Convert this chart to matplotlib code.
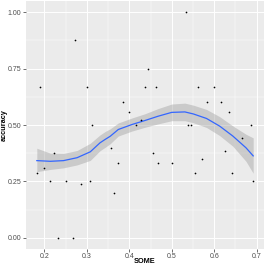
import numpy as np
import matplotlib
matplotlib.use("Agg")
import matplotlib.pyplot as plt
from matplotlib.ticker import MultipleLocator

plt.rcParams["font.family"] = ["Liberation Sans", "DejaVu Sans"]

# points
some = [0.182, 0.189, 0.200, 0.214, 0.222, 0.231, 0.251, 0.267, 0.273, 0.286,
        0.300, 0.308, 0.312, 0.357, 0.364, 0.374, 0.385, 0.400, 0.416, 0.428,
        0.438, 0.445, 0.455, 0.462, 0.467, 0.500, 0.533, 0.538, 0.546, 0.555,
        0.562, 0.571, 0.583, 0.600, 0.615, 0.625, 0.636, 0.643, 0.666, 0.687,
        0.692]
accuracy = [0.286, 0.667, 0.308, 0.250, 0.375, 0.000, 0.250, 0.000, 0.875, 0.240,
            0.667, 0.250, 0.500, 0.400, 0.200, 0.333, 0.600, 0.556, 0.500, 0.520,
            0.667, 0.750, 0.375, 0.667, 0.333, 0.333, 1.000, 0.500, 0.500, 0.286,
            0.667, 0.350, 0.600, 0.667, 0.600, 0.385, 0.556, 0.286, 0.444, 0.500,
            0.250]

# smoothed curve and its confidence band
smooth_x = [0.182, 0.214, 0.245, 0.277, 0.308, 0.331, 0.343, 0.355, 0.374, 0.406,
            0.437, 0.468, 0.500, 0.531, 0.551, 0.582, 0.613, 0.644, 0.675, 0.692]
smooth_y = [0.342, 0.339, 0.342, 0.355, 0.381, 0.421, 0.436, 0.450, 0.480, 0.502,
            0.520, 0.539, 0.556, 0.558, 0.549, 0.529, 0.495, 0.451, 0.399, 0.363]
smooth_lo = [0.293, 0.303, 0.310, 0.323, 0.343, 0.386, 0.401, 0.417, 0.451, 0.473,
             0.490, 0.505, 0.519, 0.519, 0.510, 0.489, 0.453, 0.406, 0.339, 0.286]
smooth_hi = [0.397, 0.375, 0.374, 0.387, 0.419, 0.456, 0.471, 0.483, 0.509, 0.531,
             0.550, 0.573, 0.593, 0.597, 0.588, 0.569, 0.537, 0.496, 0.459, 0.443]

fig = plt.figure(figsize=(2.66, 2.66), dpi=100)
ax = fig.add_axes([26/266, 1 - 249/266, 238/266, 248/266])
ax.set_facecolor("#EBEBEB")

ax.fill_between(smooth_x, smooth_lo, smooth_hi, color="#999999", alpha=0.4,
                linewidth=0, zorder=2)
ax.plot(smooth_x, smooth_y, color="#3366FF", linewidth=0.9, zorder=3)
ax.scatter(some, accuracy, s=1.5, color="black", linewidths=0, zorder=4)

ax.set_xlim(0.1565, 0.7175)
ax.set_ylim(-0.05, 1.05)
ax.xaxis.set_minor_locator(MultipleLocator(0.05))
ax.yaxis.set_minor_locator(MultipleLocator(0.125))
ax.set_yticks([0, 0.25, 0.5, 0.75, 1.0])
ax.set_yticklabels(["0.00", "0.25", "0.50", "0.75", "1.00"])
ax.set_xticks([0.2, 0.3, 0.4, 0.5, 0.6, 0.7])
ax.set_xticklabels(["0.2", "0.3", "0.4", "0.5", "0.6", "0.7"])

ax.grid(which="major", color="white", linewidth=0.7, zorder=0)
ax.grid(which="minor", color="white", linewidth=0.35, zorder=0)
ax.set_axisbelow(True)
for s in ax.spines.values():
    s.set_visible(False)
ax.tick_params(which="major", length=2, width=0.5, color="#333333",
               labelsize=5, labelcolor="#4D4D4D", pad=1.2)
ax.tick_params(which="minor", length=0)

ax.set_xlabel("SOME", fontsize=5.3, fontweight="bold")
ax.set_ylabel("accuracy", fontsize=5.3, fontweight="bold")
ax.xaxis.set_label_coords(0.5, -0.037)
ax.yaxis.set_label_coords(-0.078, 0.5)

fig.savefig("out.png", dpi=100)
